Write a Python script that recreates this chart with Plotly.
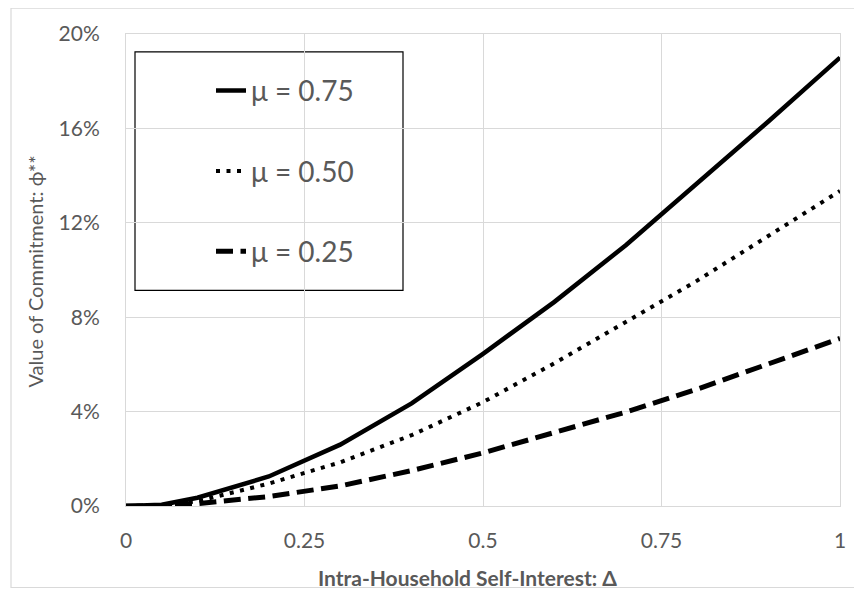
import plotly.graph_objects as go

delta = [0, 0.05, 0.1, 0.2, 0.3, 0.4, 0.5, 0.6, 0.7, 0.8, 0.9, 1.0]
mu_075 = [0, 0.05, 0.35, 1.25, 2.6, 4.35, 6.45, 8.65, 11.05, 13.65, 16.3, 19.0]
mu_050 = [0, 0.03, 0.2, 0.95, 1.85, 3.0, 4.4, 6.05, 7.8, 9.55, 11.45, 13.35]
mu_025 = [0, 0.01, 0.1, 0.4, 0.85, 1.5, 2.25, 3.1, 3.98, 4.95, 6.0, 7.1]

x_ticks = [0, 0.25, 0.5, 0.75, 1]
x_labels = ["0", "0.25", "0.5", "0.75", "1"]
y_ticks = [0, 4, 8, 12, 16, 20]
y_labels = ["0%", "4%", "8%", "12%", "16%", "20%"]

FONT = "Lato"
GRAY = "#595959"
GRID = "#d9d9d9"

fig = go.Figure()
fig.add_trace(go.Scatter(x=delta, y=mu_075, mode="lines", name="μ = 0.75",
                         legendgroup="a", line=dict(color="black", width=4.5)))
fig.add_trace(go.Scatter(x=delta, y=mu_050, mode="lines", name="μ = 0.50",
                         legendgroup="b", line=dict(color="black", width=4, dash="4px,6.5px")))
fig.add_trace(go.Scatter(x=delta, y=mu_025, mode="lines", name="μ = 0.25",
                         legendgroup="c", line=dict(color="black", width=5, dash="17px,7.5px")))

OFF = 8  # page body margin
W, H = 862 - OFF, 592 - OFF
PL, PR, PT, PB = 126, 840, 31, 506  # plot area in page pixels
L, R, T, B = PL - OFF, W - (PR - OFF), PT - OFF, H - (PB - OFF)
pw, ph = PR - PL, PB - PT

def px_x(p):
    return (p - PL) / pw

def px_y(p):
    return (PB - p) / ph

fig.update_layout(
    width=W, height=H,
    margin=dict(l=L, r=R, t=T, b=B),
    paper_bgcolor="white", plot_bgcolor="white",
    font=dict(family=FONT, color=GRAY),
    showlegend=True,
    legend=dict(x=px_x(211), y=px_y(63), xanchor="left", yanchor="top",
                bgcolor="rgba(0,0,0,0)", borderwidth=0,
                font=dict(size=28, color=GRAY, family=FONT),
                tracegroupgap=41, itemwidth=30),
    xaxis=dict(range=[0, 1], tickvals=x_ticks, ticktext=x_labels,
               showgrid=True, gridcolor=GRID, gridwidth=1,
               showline=True, linecolor=GRID, linewidth=1, mirror=True,
               zeroline=False, ticks="", ticklabelstandoff=16,
               tickfont=dict(size=21, color=GRAY, family=FONT)),
    yaxis=dict(range=[0, 20], tickvals=y_ticks, ticktext=y_labels,
               showgrid=True, gridcolor=GRID, gridwidth=1,
               showline=True, linecolor=GRID, linewidth=1, mirror=True,
               zeroline=False, ticks="", ticklabelstandoff=21,
               tickfont=dict(size=21, color=GRAY, family=FONT)),
    annotations=[
        dict(text="<b>Intra-Household Self-Interest: Δ</b>", xref="paper", yref="paper",
             x=px_x(467), y=px_y(578), xanchor="center", yanchor="middle",
             showarrow=False, font=dict(size=21, color=GRAY, family=FONT)),
        dict(text="Value of Commitment: ϕ**", xref="paper", yref="paper",
             x=px_x(35), y=px_y(270), xanchor="center", yanchor="middle", textangle=-90,
             showarrow=False, font=dict(size=20, color=GRAY, family=FONT)),
    ],
    shapes=[
        dict(type="rect", xref="paper", yref="paper",
             x0=px_x(135), x1=px_x(403), y0=px_y(289), y1=px_y(49),
             line=dict(color="black", width=1.2), fillcolor="white", layer="below"),
        dict(type="rect", xref="paper", yref="paper",
             x0=px_x(11), x1=px_x(858), y0=px_y(588), y1=px_y(5),
             line=dict(color=GRID, width=1.2), fillcolor="rgba(0,0,0,0)", layer="below"),
    ],
)

fig.write_html("out.html")
